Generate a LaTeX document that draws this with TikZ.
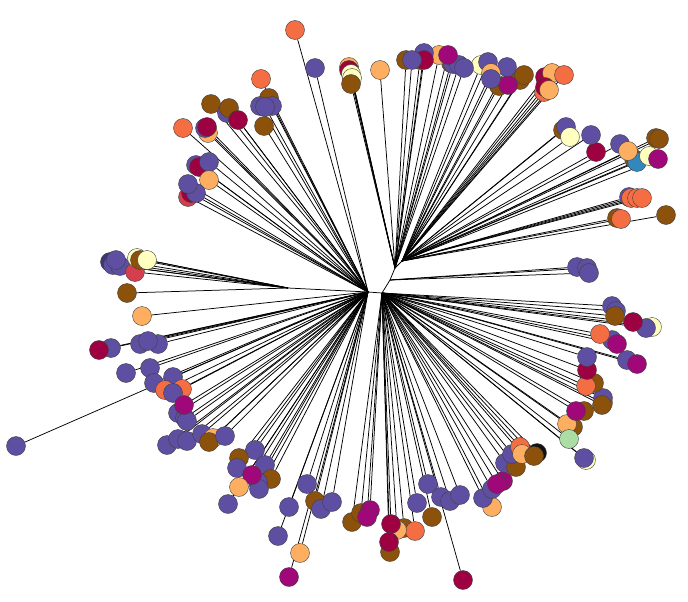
\documentclass[tikz,border=0pt]{standalone}
\usepackage{xcolor}
\usepackage{tikz}
\definecolor{purp}{HTML}{5E4FA2}
\definecolor{dpur}{HTML}{3B3480}
\definecolor{brwn}{HTML}{8C510A}
\definecolor{crim}{HTML}{9E0142}
\definecolor{mage}{HTML}{A0087A}
\definecolor{oran}{HTML}{F46D43}
\definecolor{lora}{HTML}{FDAE61}
\definecolor{crem}{HTML}{FFFFBF}
\definecolor{gren}{HTML}{ABDDA4}
\definecolor{blue}{HTML}{3288BD}
\definecolor{redd}{HTML}{D53E4F}
\definecolor{blk}{HTML}{111111}
\pgfdeclarelayer{bg}
\pgfsetlayers{bg,main}

\begin{document}
\begin{tikzpicture}[x=1pt, y=-1pt,
  leaf/.style={circle, draw=black!75, line width=0.4pt, inner sep=0pt, minimum size=19pt},
  edge/.style={line width=0.75pt, black}]
\useasboundingbox (0,0) rectangle (688,602);
% internal nodes of the tree
\coordinate (a) at (368,292);
\coordinate (b) at (382,293);
\coordinate (c) at (390,280);
\coordinate (d) at (395,268);
\coordinate (e) at (402,261);
\coordinate (f) at (288,288);
\draw[edge] (a) -- (b) -- (c) -- (d) -- (e);
\draw[edge] (a) -- (f);
% leaves: x/y/colour/parent
\foreach \x/\y/\col/\up [count=\i] in {
  295/30/oran/a, 315/68/purp/a, 261/79/oran/a, 269/98/brwn/a, 260/106/purp/a,
  272/106/purp/a, 265/107/purp/a, 264/126/brwn/a, 211/104/brwn/a, 227/113/purp/a,
  229/108/brwn/a, 238/120/crim/a, 183/128/oran/a, 208/133/lora/a, 205/128/purp/a,
  207/127/crim/a, 196/165/purp/a, 199/167/crim/a, 209/162/purp/a, 209/180/lora/a,
  188/197/redd/a, 191/193/crim/a, 196/193/purp/a, 188/184/purp/a,
  110/262/dpur/f, 113/265/purp/f, 120/266/purp/f, 116/260/purp/f, 135/272/redd/f,
  137/258/crem/f, 140/260/brwn/f, 147/260/crem/f, 127/293/brwn/f,
  142/316/lora/a, 111/348/purp/a, 99/350/crim/a, 140/344/purp/a, 158/344/purp/a,
  148/341/purp/a, 126/373/purp/a, 150/368/purp/a, 154/383/purp/a, 173/377/purp/a,
  182/389/oran/a, 165/390/oran/a, 173/393/purp/a, 178/413/purp/a, 185/418/purp/a,
  187/421/purp/a, 184/405/mage/a, 167/445/purp/a, 178/439/purp/a, 187/441/purp/a,
  202/434/purp/a, 213/438/lora/a, 209/442/brwn/a, 225/436/purp/a, 16/446/purp/a,
  255/450/purp/a, 239/458/brwn/a, 237/468/purp/a, 265/465/purp/a, 271/479/brwn/a,
  258/482/purp/a, 259/489/purp/a, 252/475/mage/a, 239/487/lora/a, 228/504/purp/a,
  307/484/purp/a, 289/507/purp/a, 278/536/purp/a, 300/553/lora/a, 289/577/mage/a,
  315/501/brwn/a, 321/509/purp/a, 332/502/purp/a,
  352/522/brwn/b, 361/513/brwn/b, 370/510/mage/b, 367/517/mage/b, 404/528/brwn/b,
  415/531/oran/b, 397/530/lora/b, 391/524/crim/b, 390/552/brwn/b, 389/542/crim/b,
  432/517/brwn/b, 417/503/purp/b, 428/484/purp/b, 441/497/purp/b, 450/501/purp/b,
  460/495/purp/b, 463/580/crim/b, 492/507/lora/b, 483/498/purp/b, 492/489/purp/b,
  503/481/mage/b, 497/484/mage/b, 505/463/purp/b, 516/467/brwn/b, 512/454/purp/b,
  520/447/oran/b, 522/454/lora/b, 537/453/blk/b, 534/456/brwn/b, 586/460/crem/b,
  584/458/purp/b, 573/427/brwn/b, 567/424/lora/b, 569/439/gren/b, 584/411/brwn/b,
  576/411/mage/b, 603/403/oran/b, 603/398/purp/b, 602/405/brwn/b, 594/383/brwn/b,
  586/386/oran/b, 587/370/crim/b, 587/357/purp/b, 627/360/purp/b, 637/364/mage/b,
  612/340/purp/b, 617/344/mage/b, 600/334/oran/b, 652/327/crem/b, 646/328/purp/b,
  633/322/crim/b, 612/306/purp/b, 616/311/purp/b, 615/316/brwn/b,
  577/267/purp/c, 587/268/purp/c, 589/273/purp/c,
  666/215/brwn/e, 617/218/brwn/e, 621/219/oran/e, 629/197/purp/e, 631/198/oran/e,
  637/198/oran/e, 642/198/oran/e, 656/138/brwn/e, 659/139/brwn/e, 634/159/brwn/e,
  637/162/blue/e, 649/156/crem/e, 658/159/mage/e, 620/144/purp/e, 628/151/lora/e,
  596/152/crim/e, 591/135/purp/e, 563/130/brwn/e, 566/127/purp/e, 570/137/crem/e,
  545/77/crim/e, 552/73/lora/e, 564/75/oran/e, 544/92/oran/e, 545/87/crim/e,
  549/90/lora/e, 520/80/brwn/e, 524/75/brwn/e, 499/86/brwn/e, 508/85/mage/e,
  507/67/purp/e, 481/65/crem/e, 488/62/purp/e, 491/73/lora/e, 491/79/purp/e,
  451/63/brwn/d, 453/64/purp/d, 459/65/purp/d, 464/68/purp/d, 439/55/lora/d,
  448/55/mage/d, 420/60/brwn/d, 424/53/purp/d, 424/60/crim/d, 406/60/brwn/d,
  412/60/purp/d, 380/70/lora/d, 349/67/lora/d, 349/70/crim/d, 351/74/crem/d,
  352/78/crem/d, 351/84/brwn/d} {
  \node[leaf, fill=\col] (l\i) at (\x,\y) {};
  \begin{pgfonlayer}{bg}
    \draw[edge] (\up) -- (l\i);
  \end{pgfonlayer}
}
\end{tikzpicture}
\end{document}
